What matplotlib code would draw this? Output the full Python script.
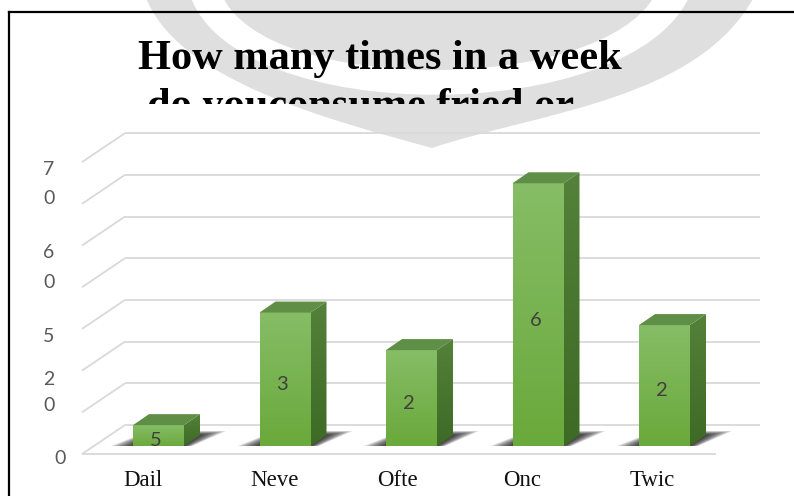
import numpy as np
import matplotlib
matplotlib.use("Agg")
import matplotlib.pyplot as plt
from matplotlib.colors import LinearSegmentedColormap
from matplotlib.patches import Polygon, PathPatch
from matplotlib.path import Path
from matplotlib.transforms import Bbox, TransformedBbox

# chart data (labels are truncated in the source picture)
categories = ["Dail", "Neve", "Ofte", "Onc", "Twic"]
values = [5, 32, 23, 63, 29]
grid_values = [0, 10, 20, 30, 40, 50, 60, 70]
ytick_text = ["7", "0", "6", "0", "5", "2", "0", "0"]
ytick_pos = [66.3, 59.4, 46.4, 39.3, 26.3, 15.9, 9.7, -3.1]
ytick_x = [-0.866] * 7 + [-0.779]
title_lines = ["How many times in a week", "do youconsume fried or"]

W, H = 794, 496
fig = plt.figure(figsize=(W / 100, H / 100), dpi=100)

# background layer in pixel coordinates: watermark, frame, title
bg = fig.add_axes([0, 0, 1, 1])
bg.set_xlim(0, W)
bg.set_ylim(H, 0)
bg.axis("off")

C4 = Path.CURVE4
shield = Path([(145, -5), (175, 80), (330, 120), (432, 148),
               (540, 112), (700, 100), (755, -5), (145, -5)],
              [Path.MOVETO, C4, C4, C4, C4, C4, C4, Path.CLOSEPOLY])
band = Path([(190, -5), (235, 128), (632, 128), (690, -5),
             (655, -5), (600, 95), (265, 95), (222, -5), (190, -5)],
            [Path.MOVETO, C4, C4, C4, Path.LINETO, C4, C4, C4, Path.CLOSEPOLY])
bg.add_patch(PathPatch(shield, facecolor="#dfdfdf", edgecolor="none"))
bg.add_patch(PathPatch(band, facecolor="white", edgecolor="none"))

bg.plot([9, 9], [12, H + 5], color="black", lw=1.6, clip_on=False)
bg.plot([9, W + 5], [12, 12], color="black", lw=1.6, clip_on=False)

bg.text(138, 69, title_lines[0], fontfamily="Liberation Serif",
        fontweight="bold", fontsize=30.5, va="baseline", ha="left")
t2 = bg.text(147, 117, title_lines[1], fontfamily="Liberation Serif",
             fontweight="bold", fontsize=30.5, va="baseline", ha="left")
t2.set_clip_on(True)
t2.set_clip_box(TransformedBbox(Bbox([[0, 0], [W, 104]]), bg.transData))

# chart layer: x in category units, y in value units
ax = fig.add_axes([0, 0, 1, 1])
ax.patch.set_alpha(0)
ax.axis("off")

PXX, PXY = 126.5, 4.17   # pixels per category / per value unit
X0, Y0 = 158.5, 446      # pixel position of category 0 at value 0


def dx(px):
    return px / PXX


def dy(px):
    return px / PXY


# 3D walls
x_front, x_back, x_end, x_floor_end = dx(82 - X0), dx(125 - X0), dx(760 - X0), dx(716 - X0)
y_front, y_back = dy(446 - 454), dy(446 - 425)
grid_kw = dict(color="#d9d9d9", lw=1.3, zorder=1, solid_capstyle="butt")
for g in grid_values:
    ax.plot([x_front, x_back], [g + y_front, g + y_back], **grid_kw)
    ax.plot([x_back, x_end], [g + y_back, g + y_back], **grid_kw)
ax.plot([x_front, x_floor_end], [y_front, y_front], **grid_kw)

# 3D bars
bw = dx(51)
ddx, ddy = dx(16), dy(11)
front_cm = LinearSegmentedColormap.from_list("f", ["#6aa93b", "#86bd66"])
side_cm = LinearSegmentedColormap.from_list("s", ["#3d6a24", "#55823a"])
grad = np.linspace(0, 1, 256).reshape(-1, 1)

for i, (cat, v) in enumerate(zip(categories, values)):
    xl, xr = i - bw / 2, i + bw / 2
    # soft shadow on the floor
    for s in np.linspace(1, 0.1, 9):
        pts = [(xl - dx(22 * s), 0), (xr + dx(8 * s), 0),
               (xr + ddx + dx(26 * s), ddy + dy(4 * s)),
               (xl + ddx, ddy + dy(4 * s))]
        ax.add_patch(Polygon(pts, closed=True, facecolor="black",
                             edgecolor="none", alpha=0.13, zorder=2))
    # front face
    ax.imshow(grad, extent=(xl, xr, 0, v), origin="lower", cmap=front_cm,
              aspect="auto", zorder=3, interpolation="bilinear")
    # side face
    side = Polygon([(xr, 0), (xr + ddx, ddy), (xr + ddx, v + ddy), (xr, v)],
                   closed=True, facecolor="none", edgecolor="none")
    ax.add_patch(side)
    im = ax.imshow(grad, extent=(xr, xr + ddx, 0, v + ddy), origin="lower",
                   cmap=side_cm, aspect="auto", zorder=3, interpolation="bilinear")
    im.set_clip_path(side)
    # top face
    ax.add_patch(Polygon([(xl, v), (xr, v), (xr + ddx, v + ddy), (xl + ddx, v + ddy)],
                         closed=True, facecolor="#5f8e46", edgecolor="none", zorder=3))
    # truncated data label
    ax.text(i - 0.02, v / 2 - 1.3, str(v)[0], ha="center", va="center",
            fontfamily="Lato", fontsize=14.5, color="#404040", zorder=4)
    # truncated category label
    ax.text(i - 0.275, dy(446 - 486), cat, ha="left", va="baseline",
            fontfamily="Liberation Serif", fontsize=16.5, color="#111111", zorder=4)

for t, p, x in zip(ytick_text, ytick_pos, ytick_x):
    ax.text(x, p, t, ha="center", va="center", fontfamily="Lato",
            fontsize=14, color="#595959", zorder=4)

ax.set_xlim(dx(0 - X0), dx(W - X0))
ax.set_ylim(dy(Y0 - H), dy(Y0))

fig.savefig("out.png", dpi=100)
